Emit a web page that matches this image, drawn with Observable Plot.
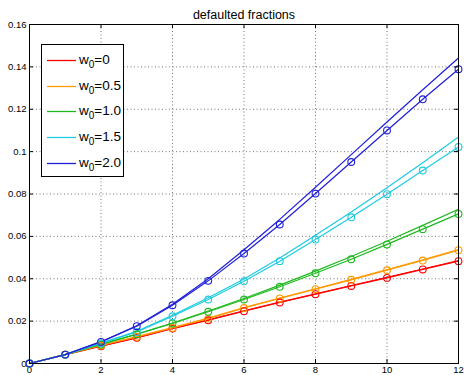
<!DOCTYPE html>
<html>
<head>
<meta charset="utf-8">
<script src="https://cdn.jsdelivr.net/npm/d3@7"></script>
<script src="https://cdn.jsdelivr.net/npm/@observablehq/plot@0.6"></script>
<style>
  html, body { margin: 0; padding: 0; background: #fff; }
  #wrap { position: relative; width: 464px; height: 375px; font-family: "Liberation Sans", Arial, sans-serif; }
  #legend { position: absolute; left: 41px; top: 44px; width: 81px; height: 131px; border: 1.5px solid #000; background: #fff; }
  .row { position: absolute; left: 0; height: 20px; width: 80px; }
  .row svg { position: absolute; left: 5px; top: 0; }
  .row span { position: absolute; left: 37px; top: -0.5px; font-size: 13.5px; line-height: 13px; color: #000; white-space: nowrap; }
  .row sub { font-size: 10px; vertical-align: -4px; line-height: 0; }
</style>
</head>
<body>
<div id="wrap"></div>
<script>
// ---- data ----
const steps = [0, 1, 2, 3, 4, 5, 6, 7, 8, 9, 10, 11, 12];

const seriesNames = ["w0=0", "w0=0.5", "w0=1.0", "w0=1.5", "w0=2.0"];
const legendValues = ["0", "0.5", "1.0", "1.5", "2.0"];
const seriesColors = ["#ff0000", "#ff9900", "#1eb91e", "#1ccbe0", "#1f1fd8"];

// curves drawn as plain lines
const lineW0_0  = [0, 0.0042, 0.0083, 0.0122, 0.0166, 0.0206, 0.0249, 0.0290, 0.0329, 0.0368, 0.0407, 0.0446, 0.0486];
const lineW0_05 = [0, 0.0042, 0.0086, 0.0127, 0.0169, 0.0214, 0.0264, 0.0309, 0.0353, 0.0397, 0.0443, 0.0489, 0.0538];
const lineW0_10 = [0, 0.0042, 0.0090, 0.0139, 0.0191, 0.0248, 0.0307, 0.0370, 0.0436, 0.0505, 0.0577, 0.0652, 0.0728];
const lineW0_15 = [0, 0.0042, 0.0096, 0.0152, 0.0228, 0.0310, 0.0399, 0.0498, 0.0605, 0.0715, 0.0830, 0.0948, 0.1069];
const lineW0_20 = [0, 0.0042, 0.0103, 0.0178, 0.0280, 0.0400, 0.0537, 0.0680, 0.0832, 0.0986, 0.1140, 0.1292, 0.1442];

// curves drawn with circle markers
const markW0_0  = [0, 0.0042, 0.0082, 0.0121, 0.0165, 0.0204, 0.0247, 0.0288, 0.0327, 0.0366, 0.0404, 0.0444, 0.0483];
const markW0_05 = [0, 0.0042, 0.0085, 0.0126, 0.0168, 0.0212, 0.0262, 0.0307, 0.0351, 0.0395, 0.0440, 0.0486, 0.0535];
const markW0_10 = [0, 0.0042, 0.0090, 0.0138, 0.0189, 0.0244, 0.0302, 0.0362, 0.0426, 0.0492, 0.0562, 0.0634, 0.0706];
const markW0_15 = [0, 0.0042, 0.0095, 0.0149, 0.0223, 0.0302, 0.0388, 0.0483, 0.0585, 0.0690, 0.0799, 0.0911, 0.1022];
const markW0_20 = [0, 0.0042, 0.0102, 0.0176, 0.0275, 0.0390, 0.0519, 0.0656, 0.0802, 0.0951, 0.1100, 0.1247, 0.1389];

const xTicks = [0, 2, 4, 6, 8, 10, 12];
const yTicks = [0, 0.02, 0.04, 0.06, 0.08, 0.1, 0.12, 0.14, 0.16];
const yTickLabels = ["0", "0.02", "0.04", "0.06", "0.08", "0.1", "0.12", "0.14", "0.16"];
const title = "defaulted fractions";

// ---- build tables ----
const lineSets = [lineW0_0, lineW0_05, lineW0_10, lineW0_15, lineW0_20];
const markSets = [markW0_0, markW0_05, markW0_10, markW0_15, markW0_20];
const lineRows = [], markRows = [];
seriesNames.forEach((s, k) => {
  steps.forEach((x, i) => {
    lineRows.push({series: s, x, y: lineSets[k][i]});
    markRows.push({series: s, x, y: markSets[k][i]});
  });
});

const W = 464, H = 375;
const mL = 29, mR = 6, mT = 24, mB = 12;
const innerW = W - mL - mR, innerH = H - mT - mB;
const tickLen = 4;

const chart = Plot.plot({
  width: W,
  height: H,
  marginLeft: mL,
  marginRight: mR,
  marginTop: mT,
  marginBottom: mB,
  style: {fontFamily: "'Liberation Sans', Arial, sans-serif", fontSize: "9.5px", background: "#fff", color: "#000"},
  x: {domain: [0, 12], ticks: xTicks, tickSize: 0, tickPadding: 3, tickFormat: d => String(d), label: null},
  y: {domain: [0, 0.16], ticks: yTicks, tickSize: 0, tickPadding: 3,
      tickFormat: d => yTickLabels[yTicks.indexOf(d)], label: null},
  color: {domain: seriesNames, range: seriesColors},
  marks: [
    Plot.ruleX(xTicks, {x: d => d, stroke: "#777", strokeDasharray: "1,2.5", strokeWidth: 1}),
    Plot.ruleY(yTicks, {y: d => d, stroke: "#777", strokeDasharray: "1,2.5", strokeWidth: 1}),
    Plot.line(lineRows, {x: "x", y: "y", z: "series", stroke: "series", strokeWidth: 1.2}),
    Plot.line(markRows, {x: "x", y: "y", z: "series", stroke: "series", strokeWidth: 1.2}),
    Plot.dot(markRows, {x: "x", y: "y", stroke: "series", r: 3.4, strokeWidth: 1.1, fill: "none"}),
    Plot.frame({stroke: "#000", strokeWidth: 1}),
    Plot.ruleX(xTicks, {x: d => d, stroke: "#000", insetTop: innerH - tickLen}),
    Plot.ruleX(xTicks, {x: d => d, stroke: "#000", insetBottom: innerH - tickLen}),
    Plot.ruleY(yTicks, {y: d => d, stroke: "#000", insetRight: innerW - tickLen}),
    Plot.ruleY(yTicks, {y: d => d, stroke: "#000", insetLeft: innerW - tickLen}),
    Plot.text([title], {text: d => d, frameAnchor: "top", lineAnchor: "bottom", dy: -6, fontSize: 12.5, fill: "#000"})
  ]
});

const wrap = document.getElementById("wrap");
wrap.appendChild(chart);

// legend (HTML overlay)
const legend = document.createElement("div");
legend.id = "legend";
const rowTops = [8, 34, 59, 85, 111];
seriesNames.forEach((s, k) => {
  const row = document.createElement("div");
  row.className = "row";
  row.style.top = rowTops[k] + "px";
  row.innerHTML =
    `<svg width="30" height="14"><line x1="0" x2="29" y1="7.5" y2="7.5" stroke="${seriesColors[k]}" stroke-width="1.3"/></svg>` +
    `<span>w<sub>0</sub>=${legendValues[k]}</span>`;
  legend.appendChild(row);
});
wrap.appendChild(legend);
</script>
</body>
</html>
